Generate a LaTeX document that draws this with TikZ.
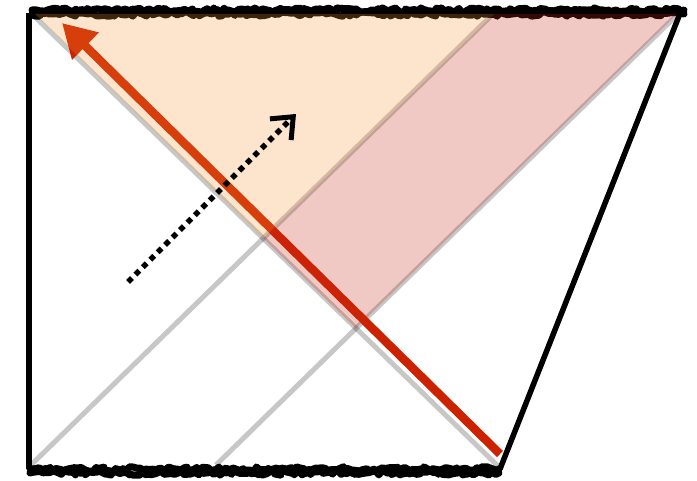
\documentclass[tikz,border=0pt]{standalone}
\usetikzlibrary{arrows.meta,decorations.pathmorphing}
\definecolor{redarrow}{RGB}{204,34,0}
\definecolor{orangefill}{RGB}{245,150,50}
\definecolor{pinkfill}{RGB}{200,40,20}
\tikzset{
  singular/.style={line width=7pt, black, line join=round, line cap=round, decorate,
    decoration={random steps, segment length=3pt, amplitude=2.2pt}},
  boundary/.style={line width=5.5pt, black},
  nullray/.style={line width=5pt, black, opacity=0.22},
  regionfill/.style={fill opacity=0.25},
  signal/.style={line width=8.5pt, redarrow, -{Triangle[length=33pt,width=36pt]}},
  observer/.style={line width=5.5pt, black, dash pattern=on 5.5pt off 5pt,
    -{Straight Barb[length=18pt,width=30pt,line width=5pt]}}
}
\begin{document}
\begin{tikzpicture}[x=1pt,y=-1pt]
\useasboundingbox (0,0) rectangle (697,481);
\pgfmathsetseed{11}
% corners
\coordinate (lt) at (29,13);
\coordinate (lb) at (29,469);
\coordinate (rb) at (500,469);
\coordinate (rt) at (681,11);
% singularities
\coordinate (s1) at (32,10);
\coordinate (s2) at (684,10);
\coordinate (s1b) at (32,14);
\coordinate (s2b) at (684,14);
\coordinate (s3) at (30,469);
\coordinate (s4) at (499,469);
\coordinate (s3b) at (30,473);
\coordinate (s4b) at (499,473);
% null rays
\coordinate (a1) at (33,15);
\coordinate (a2) at (498,466);
\coordinate (b1) at (31,465);
\coordinate (b2) at (493,14);
\coordinate (c1) at (216,465);
\coordinate (c2) at (678,14);
\coordinate (x12) at (intersection of a1--a2 and b1--b2);
\coordinate (x13) at (intersection of a1--a2 and c1--c2);
% fill corners
\coordinate (f1) at (35,14);
\coordinate (f2) at (494,14);
\coordinate (f3) at (677,14);
% arrows
\coordinate (r0) at (500,454);
\coordinate (r1) at (62,23);
\coordinate (d0) at (128,282);
\coordinate (d1) at (296,114);

\draw[boundary] (lt) -- (lb);
\draw[boundary] (rb) -- (rt);
\draw[singular] (s1) -- (s2);
\draw[singular] (s1b) -- (s2b);
\draw[singular] (s3) -- (s4);
\draw[singular] (s3b) -- (s4b);
\draw[nullray] (a1) -- (a2);
\draw[nullray] (b1) -- (b2);
\draw[nullray] (c1) -- (c2);
\draw[signal] (r0) -- (r1);
\fill[orangefill, regionfill] (f1) -- (f2) -- (x12) -- cycle;
\fill[pinkfill, regionfill] (f2) -- (f3) -- (x13) -- (x12) -- cycle;
\draw[observer] (d0) -- (d1);
\end{tikzpicture}
\end{document}
